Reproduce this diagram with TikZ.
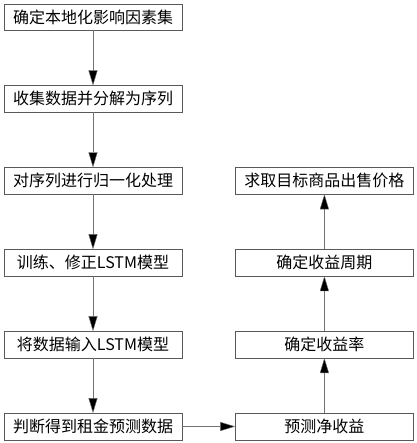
\documentclass[tikz,border=0pt]{standalone}
\usepackage{fontspec}
\setmainfont{Noto Sans CJK SC}
\usetikzlibrary{positioning,arrows.meta}
\begin{document}
\begin{tikzpicture}[x=1pt,y=1pt,font=\fontsize{16}{19}\selectfont,node distance=55pt and 53pt]
      \tikzstyle{step box}=[draw=black!65,minimum width=178pt,minimum height=26.5pt,inner sep=0pt]
      \tikzstyle{flow}=[draw=black!55,-{Triangle[length=15pt,width=9pt,fill=black]}]
      \useasboundingbox (0,0) rectangle (416,-443);

      % left column
      \node(factors)[step box] at (93,-17) {确定本地化影响因素集};
      \node(collect)[step box,below=of factors] {收集数据并分解为序列};
      \node(normal)[step box,below=of collect] {对序列进行归一化处理};
      \node(train)[step box,below=of normal] {训练、修正LSTM模型};
      \node(input)[step box,below=of train] {将数据输入LSTM模型};
      \node(rent)[step box,below=of input] {判断得到租金预测数据};

      % right column
      \node(income)[step box,right=of rent] {预测净收益};
      \node(rate)[step box,above=of income] {确定收益率};
      \node(period)[step box,above=of rate] {确定收益周期};
      \node(price)[step box,above=of period] {求取目标商品出售价格};

      \draw[flow] (factors) -- (collect);
      \draw[flow] (collect) -- (normal);
      \draw[flow] (normal) -- (train);
      \draw[flow] (train) -- (input);
      \draw[flow] (input) -- (rent);
      \draw[flow] (rent) -- (income);
      \draw[flow] (income) -- (rate);
      \draw[flow] (rate) -- (period);
      \draw[flow] (period) -- (price);
\end{tikzpicture}
\end{document}
